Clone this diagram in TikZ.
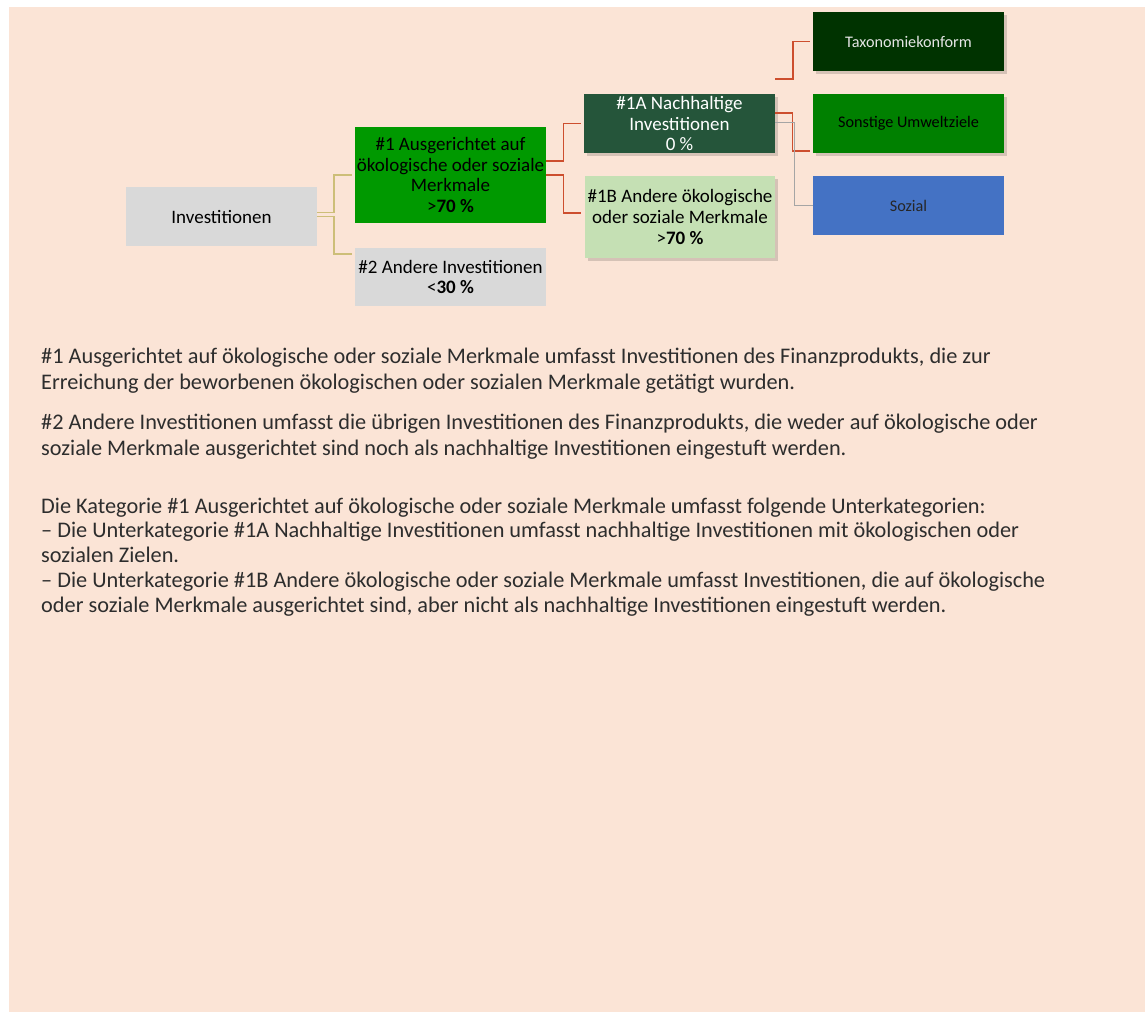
\documentclass[tikz,border=0pt]{standalone}
\usepackage{fontspec}
\setmainfont{Carlito}
\usetikzlibrary{shadows}
\definecolor{bgPeach}{RGB}{251,228,214}
\definecolor{boxGray}{RGB}{217,217,217}
\definecolor{greenMain}{RGB}{0,153,0}
\definecolor{greenDark}{RGB}{37,85,58}
\definecolor{greenLight}{RGB}{197,224,180}
\definecolor{greenDeep}{RGB}{0,51,0}
\definecolor{greenMid}{RGB}{0,128,0}
\definecolor{blueSoc}{RGB}{68,114,196}
\definecolor{lineRed}{RGB}{205,78,46}
\definecolor{lineKhaki}{RGB}{205,190,120}
\definecolor{lineGray}{RGB}{165,165,165}
\definecolor{noteText}{RGB}{45,45,45}

\begin{document}
\begin{tikzpicture}[
  x=1pt,y=-1pt,
  box/.style={minimum width=191pt,minimum height=59pt,inner sep=1pt,
              align=center,text=black,font=\fontsize{19}{20.7}\selectfont},
  smallbox/.style={box,font=\fontsize{16.2}{19}\selectfont},
  shadowed/.style={drop shadow={shadow xshift=2.5pt,shadow yshift=-3pt,
                   fill=black,opacity=0.15}},
  tie/.style={line width=1.7pt,draw=lineKhaki},
  redlink/.style={line width=1.8pt,draw=lineRed},
  graylink/.style={line width=1.4pt,draw=lineGray},
  note/.style={anchor=base west,text width=1100pt,align=flush left,inner sep=0pt,
               text=noteText,font=\fontsize{22.3}{26}\selectfont}
]
\useasboundingbox (0,0) rectangle (1148,1012);
\fill[bgPeach] (9,7) rectangle (1145,1012);

% ==========  Boxes  ==========
\node[box,fill=boxGray] (inv) at (221.5,216.5) {Investitionen};

\node[box,fill=greenMain,minimum height=96pt] (aligned) at (450.5,175)
  {\#1 Ausgerichtet auf\\ökologische oder soziale\\Merkmale\\>\textbf{70 \%}};
\node[box,fill=boxGray,minimum height=58pt] (other) at (450.5,277)
  {\#2 Andere Investitionen\\<\textbf{30 \%}};

\node[box,fill=greenDark,text=white,shadowed] (sust) at (679.5,123.5)
  {\#1A Nachhaltige\\Investitionen\\0 \%};
\node[box,fill=greenLight,minimum width=190pt,minimum height=82pt,shadowed]
  (otherES) at (680,217)
  {\#1B Andere ökologische\\oder soziale Merkmale\\>\textbf{70 \%}};

\node[smallbox,fill=greenDeep,text=black!10,shadowed] (taxo) at (908.5,41.5)
  {Taxonomiekonform};
\node[smallbox,fill=greenMid,shadowed] (envir) at (908.5,123.5)
  {Sonstige Umweltziele};
\node[smallbox,fill=blueSoc,text=black!85] (social) at (908.5,205.5) {Sozial};

% ==========  Connectors  ==========
% Investitionen -> #1 / #2
\draw[tie] ([yshift=4pt]inv.east) -- ++(17,0) |- ([xshift=-3pt]aligned.west);
\draw[tie] (inv.east) -- ++(17,0) |- ([xshift=-3pt,yshift=22.7pt]other.west);

% #1 -> #1A / #1B
\draw[redlink] ([yshift=14pt]aligned.east) -- ++(17.3,0) |- ([xshift=-3pt]sust.west);
\draw[redlink] (aligned.east) -- ++(17.3,0) |- ([xshift=-4pt,yshift=4.3pt]otherES.west);

% #1A -> Taxonomie / Umwelt / Sozial
\draw[redlink] ([yshift=15pt]sust.north east) -- ++(18,0) |- ([xshift=-3pt]taxo.west);
\draw[redlink] ([yshift=10.8pt]sust.east) -- ++(17.3,0)
  |- ([xshift=-3pt,yshift=-27.2pt]envir.west);
\draw[graylink] ([yshift=1.2pt]sust.east) -- ++(19,0) |- (social.west);

% ==========  Notes  ==========
\node[note] (noteA) at (41,363)
  {\#1 Ausgerichtet auf ökologische oder soziale Merkmale umfasst Investitionen des Finanzprodukts, die zur\\
   Erreichung der beworbenen ökologischen oder sozialen Merkmale getätigt wurden.};
\node[note] (noteB) at (41,429)
  {\#2 Andere Investitionen umfasst die übrigen Investitionen des Finanzprodukts, die weder auf ökologische oder\\
   soziale Merkmale ausgerichtet sind noch als nachhaltige Investitionen eingestuft werden.};
\node[note,font=\fontsize{22.3}{24.8}\selectfont] (noteC) at (41,513)
  {Die Kategorie \#1 Ausgerichtet auf ökologische oder soziale Merkmale umfasst folgende Unterkategorien:\\
   – Die Unterkategorie \#1A Nachhaltige Investitionen umfasst nachhaltige Investitionen mit ökologischen oder\\
   sozialen Zielen.\\
   – Die Unterkategorie \#1B Andere ökologische oder soziale Merkmale umfasst Investitionen, die auf ökologische\\
   oder soziale Merkmale ausgerichtet sind, aber nicht als nachhaltige Investitionen eingestuft werden.};

\end{tikzpicture}
\end{document}
